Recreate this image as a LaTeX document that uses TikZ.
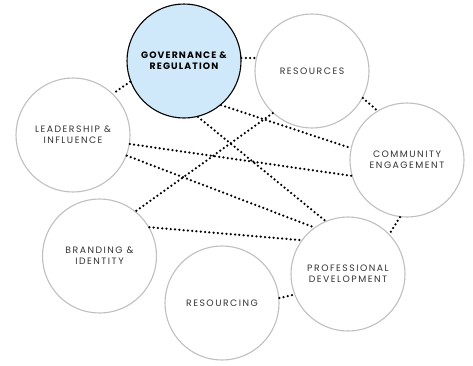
\documentclass[tikz,border=0pt]{standalone}
\usepackage{fontspec}
\setmainfont{Poppins}[LetterSpace=16]
\newfontfamily\boldlab{Poppins}[LetterSpace=12,UprightFont=* Bold]
\begin{document}
\begin{tikzpicture}[x=1pt,y=-1pt,
  bub/.style={circle,draw=black!25,line width=1.1pt,minimum size=114pt,inner sep=0pt,
    align=center,font=\fontsize{9.3}{11}\selectfont,text=black!80},
  mainbub/.style={bub,draw=black,fill={rgb,255:red,207;green,233;blue,250},font=\boldlab\fontsize{9.3}{11}\selectfont,text=black},
  link/.style={line width=2.5pt,line cap=round,dash pattern=on 0pt off 4.3pt}]
\useasboundingbox (0,0) rectangle (473,365);
\node[mainbub] (gov) at (184,61) {GOVERNANCE \&\\REGULATION};
\node[bub] (res) at (312,71) {RESOURCES};
\node[bub] (lead) at (73,135) {LEADERSHIP \&\\INFLUENCE};
\node[bub] (comm) at (407,160) {COMMUNITY\\ENGAGEMENT};
\node[bub] (brand) at (99.5,256) {BRANDING \&\\IDENTITY};
\node[bub] (rsc) at (222,303) {RESOURCING};
\node[bub] (prof) at (348,274) {PROFESSIONAL\\DEVELOPMENT};
\draw[link] (gov.3) -- (res.167);
\draw[link] (gov.201) -- (lead.46);
\draw[link] (gov.-50) -- (comm.168);
\draw[link] (gov.-76) -- (prof.113);
\draw[link] (res.227) -- (brand.51);
\draw[link] (res.-28) -- (comm.121);
\draw[link] (lead.-9.5) -- (comm.196.6);
\draw[link] (lead.-21) -- (prof.126.7);
\draw[link] (brand.30) -- (prof.144);
\draw[link] (comm.263) -- (prof.44);
\draw[link] (rsc.5) -- (prof.201.6);
\end{tikzpicture}
\end{document}
